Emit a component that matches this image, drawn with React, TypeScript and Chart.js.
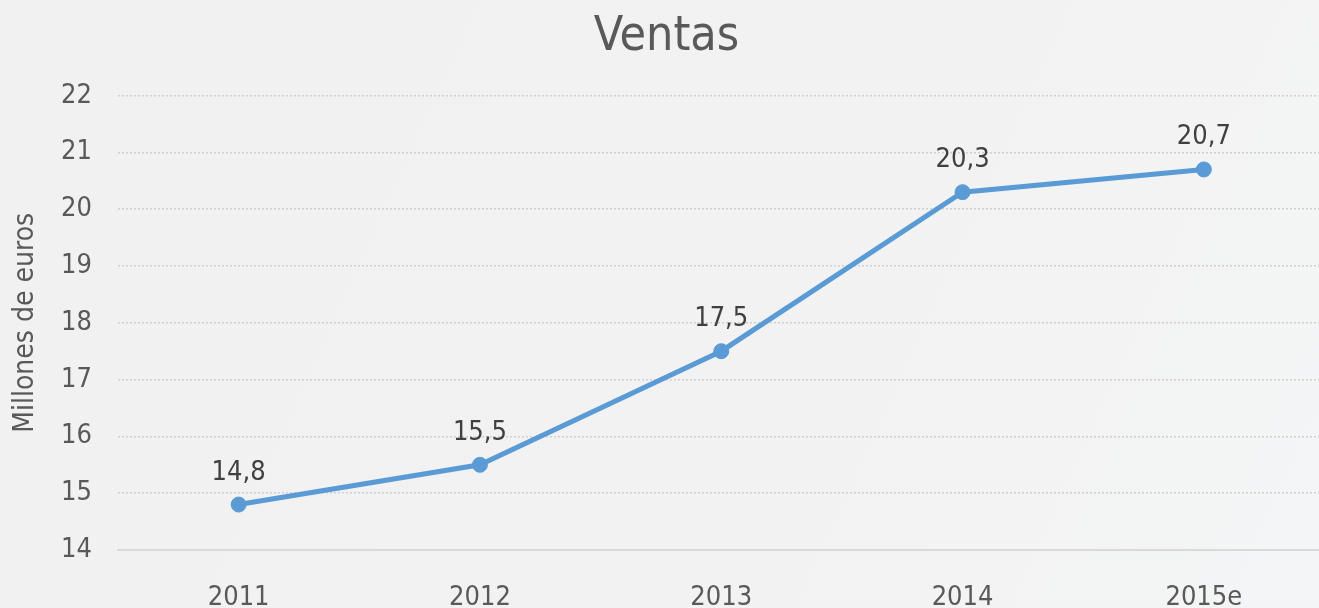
import React, { useEffect, useRef } from "react";
import { Chart, registerables } from "chart.js";

Chart.register(...registerables);

const categories = ["2011", "2012", "2013", "2014", "2015e"];
const sales = [14.8, 15.5, 17.5, 20.3, 20.7];
const yTicks = { min: 14, max: 22, step: 1 };
const chartTitle = "Ventas";
const yTitle = "Millones de euros";

const FONT = "'DejaVu Sans Condensed', 'DejaVu Sans', sans-serif";
const TEXT = "#595959";

const bgPlugin = {
  id: "bg",
  beforeDraw(chart: any) {
    const { ctx, width, height } = chart;
    ctx.save();
    const g = ctx.createLinearGradient(0, 0, width, height);
    g.addColorStop(0, "#f1f1f1");
    g.addColorStop(0.6, "#f2f2f2");
    g.addColorStop(1, "#f4f5f6");
    ctx.fillStyle = g;
    ctx.fillRect(0, 0, width, height);
    ctx.restore();
  },
};

const labelPlugin = {
  id: "dataLabels",
  afterDatasetsDraw(chart: any) {
    const { ctx } = chart;
    const meta = chart.getDatasetMeta(0);
    ctx.save();
    ctx.font = `27px ${FONT}`;
    ctx.fillStyle = "#404040";
    ctx.textAlign = "center";
    ctx.textBaseline = "alphabetic";
    meta.data.forEach((pt: any, i: number) => {
      const v = sales[i].toFixed(1).replace(".", ",");
      ctx.fillText(v, pt.x, pt.y - 25);
    });
    ctx.restore();
  },
};

export default function App() {
  const ref = useRef<HTMLCanvasElement>(null);
  useEffect(() => {
    document.body.style.margin = "0";
    const chart = new Chart(ref.current!, {
      type: "line",
      data: {
        labels: categories,
        datasets: [
          {
            data: sales,
            borderColor: "#5b9bd5",
            backgroundColor: "#5b9bd5",
            borderWidth: 5,
            pointRadius: 7.5,
            pointHoverRadius: 7.5,
            pointBorderWidth: 1,
            tension: 0,
          },
        ],
      },
      options: {
        responsive: false,
        animation: false,
        layout: { padding: 0 },
        plugins: {
          legend: { display: false },
          tooltip: { enabled: false },
          title: {
            display: true,
            text: chartTitle,
            color: TEXT,
            font: { family: FONT, size: 48, weight: "normal" },
            padding: { top: 9, bottom: 29 },
          },
        },
        scales: {
          x: {
            offset: true,
            grid: { display: false, drawTicks: false },
            border: { display: true, color: "#d9d9d9", width: 2 },
            ticks: {
              color: TEXT,
              font: { family: FONT, size: 27 },
              padding: 32,
              maxRotation: 0,
            },
            afterFit(scale: any) {
              scale.height = 58;
            },
          },
          y: {
            min: yTicks.min,
            max: yTicks.max,
            grid: { color: "#d0d0d0", lineWidth: 1.5, drawTicks: false },
            border: { display: false, dash: [2, 2] },
            ticks: {
              stepSize: yTicks.step,
              color: TEXT,
              font: { family: FONT, size: 27 },
              padding: 26,
            },
            title: {
              display: true,
              text: yTitle,
              color: TEXT,
              font: { family: FONT, size: 28 },
              padding: { top: 9, bottom: 0 },
            },
            afterFit(scale: any) {
              scale.width = 118;
            },
          },
        },
      },
      plugins: [bgPlugin, labelPlugin],
    });
    return () => chart.destroy();
  }, []);
  return (
    <div style={{ width: 1319, height: 608, overflow: "hidden" }}>
      <canvas ref={ref} width={1333} height={608} style={{ display: "block" }} />
    </div>
  );
}
